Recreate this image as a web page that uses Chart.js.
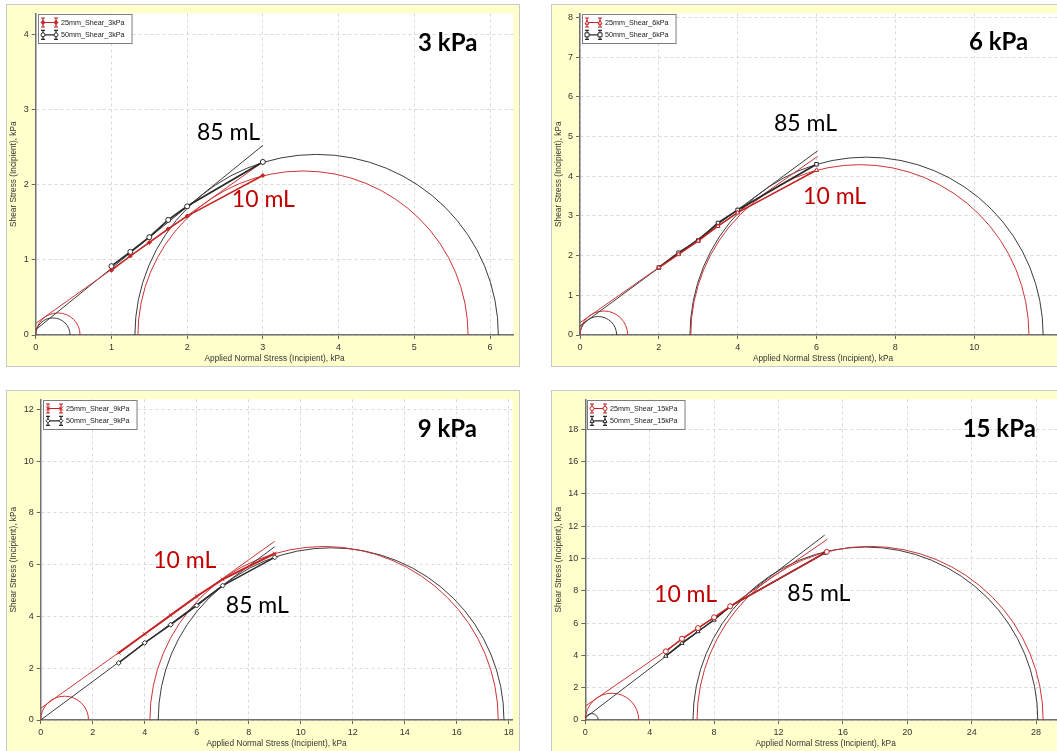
<!DOCTYPE html>
<html><head><meta charset="utf-8">
<script src="https://cdn.jsdelivr.net/npm/chart.js@4/dist/chart.umd.min.js"></script>
<style>
html,body{margin:0;padding:0;background:#fff;overflow:hidden;width:1057px;height:751px;}
.panel{position:absolute;background:#FFFFCC;border:1px solid #C8C8C8;}
.panel canvas{display:block;}
</style></head><body>
<div class="panel" style="left:6px;top:4px;width:512px;height:361px"><canvas id="c1" width="512" height="361"></canvas></div>
<div class="panel" style="left:551px;top:4px;width:520px;height:361px"><canvas id="c2" width="520" height="361"></canvas></div>
<div class="panel" style="left:6px;top:390px;width:512px;height:360px"><canvas id="c3" width="512" height="360"></canvas></div>
<div class="panel" style="left:551px;top:390px;width:520px;height:360px"><canvas id="c4" width="520" height="360"></canvas></div>
<script>
// ---------------- DATA ----------------
const xTitle = 'Applied Normal Stress (Incipient), kPa';
const yTitle = 'Shear Stress (Incipient), kPa';

// 3 kPa
const labels3 = ['25mm_Shear_3kPa', '50mm_Shear_3kPa'];
const normal3 = [1, 1.25, 1.5, 1.75, 2, 3];
const shear25_3 = [0.86, 1.05, 1.23, 1.41, 1.58, 2.12];
const shear50_3 = [0.915, 1.105, 1.30, 1.53, 1.71, 2.30];
const locus25_3 = [0, 0.154, 3, 2.30];
const locus50_3 = [0, 0.07, 3, 2.52];
const circles25_3 = [[0.293, 0.293], [3.53, 2.18]];
const circles50_3 = [[0.227, 0.227], [3.71, 2.40]];

// 6 kPa
const labels6 = ['25mm_Shear_6kPa', '50mm_Shear_6kPa'];
const normal6 = [2, 2.5, 3, 3.5, 4, 6];
const shear25_6 = [1.70, 2.03, 2.37, 2.74, 3.08, 4.15];
const shear50_6 = [1.70, 2.07, 2.38, 2.82, 3.15, 4.30];
const locus25_6 = [0, 0.31, 6.03, 4.50];
const locus50_6 = [0, 0.23, 6.03, 4.64];
const circles25_6 = [[0.605, 0.605], [7.10, 4.29]];
const circles50_6 = [[0.465, 0.465], [7.27, 4.48]];

// 9 kPa
const labels9 = ['25mm_Shear_9kPa', '50mm_Shear_9kPa'];
const normal9 = [3, 4, 5, 6, 7, 9];
const shear25_9 = [2.59, 3.32, 4.05, 4.78, 5.43, 6.43];
const shear50_9 = [2.20, 2.98, 3.68, 4.42, 5.19, 6.28];
const locus25_9 = [0, 0.45, 9, 6.90];
const locus50_9 = [0, 0, 9, 6.69];
const circles25_9 = [[0.92, 0.92], [10.90, 6.70]];
const circles50_9 = [[11.17, 6.65]];

// 15 kPa
const labels15 = ['25mm_Shear_15kPa', '50mm_Shear_15kPa'];
const normal25_15 = [5, 6, 7, 8, 9, 15];
const shear25_15 = [4.25, 5.03, 5.69, 6.36, 7.04, 10.41];
const normal50_15 = [5, 6, 7, 8, 9, 14.87];
const shear50_15 = [3.96, 4.76, 5.48, 6.20, 7.04, 10.34];
const locus25_15 = [0, 0.86, 15.03, 11.19];
const locus50_15 = [0, 0.14, 14.87, 11.45];
const circles25_15 = [[1.66, 1.66], [17.69, 10.75]];
const circles50_15 = [[0.40, 0.40], [17.40, 10.71]];

// ---------------- STYLE ----------------
const FONT = '"Liberation Sans", Arial, sans-serif';
const NOTE_FONT = 'Lato, "Open Sans", sans-serif';
const RED = '#C42424', BLK = '#2A2A2A';
const RED_C = '#CC3535', BLK_C = '#3C3C3C';
const NOTE_RED = '#C00000';

function pts(xs, ys){ return xs.map((x, i) => ({x: x, y: ys[i]})); }
function seg(a){ return [{x: a[0], y: a[1]}, {x: a[2], y: a[3]}]; }

const whitePlot = { id: 'whitePlot', beforeDraw(c){
  const a = c.chartArea, ctx = c.ctx; ctx.save(); ctx.fillStyle = '#fff';
  ctx.fillRect(a.left, a.top, a.right - a.left, a.bottom - a.top); ctx.restore(); } };

function makeMohr(sets){ return { id: 'mohr', beforeDatasetsDraw(c){
  const a = c.chartArea, ctx = c.ctx, xs = c.scales.x, ys = c.scales.y;
  ctx.save(); ctx.beginPath(); ctx.rect(a.left, a.top, a.right - a.left, a.bottom - a.top); ctx.clip();
  sets.forEach(s => { ctx.strokeStyle = s.color; ctx.lineWidth = s.width;
    s.circles.forEach(([cx, r]) => {
      const px = xs.getPixelForValue(cx), py = ys.getPixelForValue(0);
      const rx = Math.abs(xs.getPixelForValue(cx + r) - px), ry = Math.abs(ys.getPixelForValue(r) - py);
      ctx.beginPath(); ctx.ellipse(px, py, rx, ry, 0, Math.PI, 2 * Math.PI); ctx.stroke();
    }); });
  ctx.restore(); } }; }

function marker(ctx, style, x, y, r, color, fill){
  ctx.save(); ctx.strokeStyle = color; ctx.fillStyle = fill; ctx.lineWidth = 1; ctx.beginPath();
  if (style === 'circle') ctx.arc(x, y, r, 0, 2 * Math.PI);
  else if (style === 'rect') ctx.rect(x - r, y - r, 2 * r, 2 * r);
  else if (style === 'triangle') { ctx.moveTo(x, y - r); ctx.lineTo(x + r, y + r * 0.8); ctx.lineTo(x - r, y + r * 0.8); ctx.closePath(); }
  else if (style === 'rectRot') { ctx.moveTo(x, y - r); ctx.lineTo(x + r, y); ctx.lineTo(x, y + r); ctx.lineTo(x - r, y); ctx.closePath(); }
  else { ctx.moveTo(x - r, y - r); ctx.lineTo(x + r, y + r); ctx.moveTo(x + r, y - r); ctx.lineTo(x - r, y + r); }
  ctx.fill(); ctx.stroke(); ctx.restore();
}

function makeLegend(){ return { id: 'boxLegend', afterDraw(c){
  const ctx = c.ctx, a = c.chartArea;
  const entries = c.data.datasets.filter(d => d.label);
  ctx.save(); ctx.font = '7.2px ' + FONT;
  const w = 24 + Math.max(...entries.map(e => ctx.measureText(e.label).width)) + 6;
  const x = Math.round(a.left) + 2, y = Math.round(a.top) + 1, h = 29;
  ctx.fillStyle = '#fff'; ctx.fillRect(x, y, w, h);
  ctx.strokeStyle = '#7d7d7d'; ctx.lineWidth = 1; ctx.strokeRect(x + 0.5, y + 0.5, w, h);
  entries.forEach((e, i) => {
    const cy = y + 8.5 + i * 12.3, ix = x + 5, col = e.borderColor;
    ctx.strokeStyle = col; ctx.lineWidth = 1.2;
    ctx.beginPath(); ctx.moveTo(ix, cy); ctx.lineTo(ix + 13, cy);
    [ix, ix + 13].forEach(bx => { ctx.moveTo(bx, cy - 4.5); ctx.lineTo(bx, cy + 4.5);
      ctx.moveTo(bx - 2, cy - 4.5); ctx.lineTo(bx + 2, cy - 4.5); ctx.moveTo(bx - 2, cy + 4.5); ctx.lineTo(bx + 2, cy + 4.5); });
    ctx.stroke();
    marker(ctx, e.pointStyle, ix, cy, 2, col, e.pointBackgroundColor);
    marker(ctx, e.pointStyle, ix + 13, cy, 2, col, e.pointBackgroundColor);
    ctx.fillStyle = '#1a1a1a'; ctx.textBaseline = 'middle'; ctx.textAlign = 'left';
    ctx.fillText(e.label, x + 23, cy + 0.5);
  });
  ctx.restore(); } }; }

function makeNotes(notes){ return { id: 'notes', afterDraw(c){
  const ctx = c.ctx, xs = c.scales.x, ys = c.scales.y;
  ctx.save(); ctx.textAlign = 'left'; ctx.textBaseline = 'alphabetic';
  notes.forEach(n => { ctx.font = n.font; ctx.fillStyle = n.color;
    ctx.fillText(n.text, xs.getPixelForValue(n.x), ys.getPixelForValue(n.y)); });
  ctx.restore(); } }; }

function axis(o){
  return {
    type: 'linear', min: 0, max: o.max,
    ticks: { stepSize: o.step, includeBounds: false, autoSkip: false, maxRotation: 0,
      color: '#333', padding: o.isX ? 3 : 3, font: { family: FONT, size: 9 } },
    grid: { color: '#DADADA', lineWidth: 1, drawTicks: true, tickLength: 4, tickColor: '#666', tickWidth: 1, tickBorderDash: [] },
    border: { display: true, color: '#707070', width: 1.5, dash: [3, 3] },
    title: { display: true, text: o.title, color: '#333', font: { family: FONT, size: 8.3 },
      padding: o.isX ? { top: 0, bottom: 2 } : { top: 2, bottom: 0 } },
    afterFit(s){ if (o.isX) s.height = o.fit; else s.width = o.fit; },
    afterBuildTicks(s){ s.ticks = s.ticks.filter(t => t.value <= o.tickMax + 1e-9); }
  };
}

function series(label, xs, ys, color, style, fill, width, radius){
  return { label: label, data: pts(xs, ys), showLine: true, borderColor: color, backgroundColor: color,
    borderWidth: width, pointStyle: style, pointRadius: radius, pointBorderColor: color,
    pointBackgroundColor: fill, pointBorderWidth: 1, order: 1 };
}
function locus(a, color){
  return { data: seg(a), showLine: true, borderColor: color, borderWidth: 1, pointRadius: 0, order: 2 };
}

function build(id, o){
  new Chart(document.getElementById(id), {
    type: 'scatter',
    data: { datasets: o.datasets },
    options: {
      responsive: false, animation: false, devicePixelRatio: 1,
      layout: { padding: o.pad },
      plugins: { legend: { display: false }, tooltip: { enabled: false } },
      scales: {
        x: axis({ isX: true, max: o.xMax, step: o.xStep, tickMax: o.xTickMax, fit: o.xFit, title: xTitle }),
        y: axis({ isX: false, max: o.yMax, step: o.yStep, tickMax: o.yTickMax, fit: o.yFit, title: yTitle })
      }
    },
    plugins: [whitePlot, makeMohr(o.circles), makeLegend(), makeNotes(o.notes)]
  });
}

const bigFont = 'bold 24px ' + NOTE_FONT, volFont = '23px ' + NOTE_FONT;

build('c1', {
  pad: { top: 6, right: 5.5, left: 0, bottom: 0 }, xFit: 31, yFit: 28.7,
  xMax: 6.31, xStep: 1, xTickMax: 6, yMax: 4.274, yStep: 1, yTickMax: 4,
  datasets: [
    series(labels3[0], normal3, shear25_3, RED, 'rectRot', RED, 1.5, 2),
    series(labels3[1], normal3, shear50_3, BLK, 'circle', '#fff', 1.8, 2.5),
    locus(locus25_3, RED_C), locus(locus50_3, BLK_C)
  ],
  circles: [{ color: BLK_C, width: 1, circles: circles50_3 }, { color: RED_C, width: 1, circles: circles25_3 }],
  notes: [
    { text: '3 kPa', x: 5.05, y: 3.77, font: bigFont, color: '#000' },
    { text: '85 mL', x: 2.13, y: 2.595, font: volFont, color: '#000' },
    { text: '10 mL', x: 2.59, y: 1.70, font: volFont, color: NOTE_RED }
  ]
});

build('c2', {
  pad: { top: 7, right: 6, left: 0, bottom: 0 }, xFit: 31, yFit: 28,
  xMax: 12.33, xStep: 2, xTickMax: 10, yMax: 8.10, yStep: 1, yTickMax: 8,
  datasets: [
    series(labels6[0], normal6, shear25_6, RED, 'triangle', '#fff', 1.5, 2.5),
    series(labels6[1], normal6, shear50_6, BLK, 'rect', '#fff', 1.8, 2.5),
    locus(locus25_6, RED_C), locus(locus50_6, BLK_C)
  ],
  circles: [{ color: BLK_C, width: 1, circles: circles50_6 }, { color: RED_C, width: 1, circles: circles25_6 }],
  notes: [
    { text: '6 kPa', x: 9.87, y: 7.17, font: bigFont, color: '#000' },
    { text: '85 mL', x: 4.92, y: 5.14, font: volFont, color: '#000' },
    { text: '10 mL', x: 5.66, y: 3.30, font: volFont, color: NOTE_RED }
  ]
});

build('c3', {
  pad: { top: 6.7, right: 6.7, left: 0, bottom: 0 }, xFit: 31, yFit: 33.7,
  xMax: 18.14, xStep: 2, xTickMax: 18, yMax: 12.38, yStep: 2, yTickMax: 12,
  datasets: [
    series(labels9[0], normal9, shear25_9, RED, 'crossRot', RED, 2, 2.5),
    series(labels9[1], normal9, shear50_9, BLK, 'rectRot', '#fff', 1.5, 2.5),
    locus(locus25_9, RED_C), locus(locus50_9, BLK_C)
  ],
  circles: [{ color: BLK_C, width: 1, circles: circles50_9 }, { color: RED_C, width: 1, circles: circles25_9 }],
  notes: [
    { text: '9 kPa', x: 14.5, y: 10.92, font: bigFont, color: '#000' },
    { text: '10 mL', x: 4.33, y: 5.86, font: volFont, color: NOTE_RED },
    { text: '85 mL', x: 7.12, y: 4.13, font: volFont, color: '#000' }
  ]
});

build('c4', {
  pad: { top: 6.7, right: 6, left: 0, bottom: 0 }, xFit: 31, yFit: 33.3,
  xMax: 29.86, xStep: 4, xTickMax: 28, yMax: 19.85, yStep: 2, yTickMax: 18,
  datasets: [
    series(labels15[0], normal25_15, shear25_15, RED, 'circle', '#fff', 1.5, 2.5),
    series(labels15[1], normal50_15, shear50_15, BLK, 'triangle', '#fff', 1.5, 2.5),
    locus(locus25_15, RED_C), locus(locus50_15, BLK_C)
  ],
  circles: [{ color: BLK_C, width: 1, circles: circles50_15 }, { color: RED_C, width: 1, circles: circles25_15 }],
  notes: [
    { text: '15 kPa', x: 23.44, y: 17.5, font: bigFont, color: '#000' },
    { text: '10 mL', x: 4.27, y: 7.32, font: volFont, color: NOTE_RED },
    { text: '85 mL', x: 12.55, y: 7.39, font: volFont, color: '#000' }
  ]
});
</script>
</body></html>
